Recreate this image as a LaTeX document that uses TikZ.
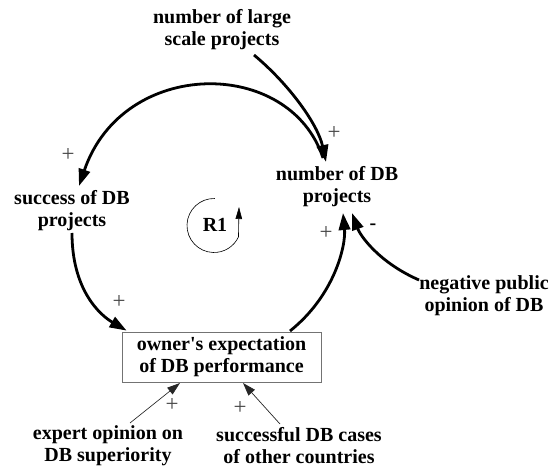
\documentclass[tikz,border=0pt]{standalone}
\usepackage{fontspec}
\setmainfont{Liberation Serif}[Ligatures=TeXOff]
\usetikzlibrary{arrows.meta,calc}
\begin{document}
\begin{tikzpicture}[x=1pt,y=-1pt,
  lbl/.style={font=\bfseries\fontsize{20}{22}\selectfont, align=center, inner sep=0pt},
  sgn/.style={font=\fontsize{23}{23}\selectfont, text=black!72, inner sep=0pt},
  biglink/.style={line width=2.8pt, -{Triangle[length=17pt,width=11.5pt]}},
  thinlink/.style={line width=0.7pt, draw=black!85, -{Triangle[length=13pt,width=8.5pt]}},
  loopmark/.style={line width=0.6pt, -{Triangle[length=12pt,width=6.5pt]}}]
\useasboundingbox (0,0) rectangle (552,473);

% variables
\node[lbl] (large) at (222,30) {number of large\\scale projects};
\node[lbl] (ndb) at (337,187) {number of DB\\projects};
\node[lbl] (succ) at (72,211) {success of DB\\projects};
\node[lbl] (neg) at (484,296) {negative public\\opinion of DB};
\node[lbl, draw=black!55, line width=0.8pt, fill=white, minimum width=199pt, minimum height=50pt] (own) at (221.5,357) {owner's expectation\\of DB performance};
\node[lbl] (exp) at (108,446) {expert opinion on\\DB superiority};
\node[lbl] (sdc) at (299,446) {successful DB cases\\of other countries};
\node[lbl] (r1) at (215,225) {R1};

% connector ends
\coordinate (largeout) at (254,55);
\coordinate (ndbtop) at (326,162);
\coordinate (ndbarc) at (323,158);
\coordinate (succtop) at (79,186);
\coordinate (succbot) at (72,233);
\coordinate (ownnw) at ($(own.north west)+(5,-1)$);
\coordinate (ownne) at (290,331);
\coordinate (ndbbl) at (343,213);
\coordinate (ndbbr) at (352,213);
\coordinate (negin) at (419,280);
\coordinate (expout) at (130,423);
\coordinate (exptip) at (180,383);
\coordinate (sdcout) at (280,424);
\coordinate (sdctip) at (243,383);
\coordinate (loopc) at ($(r1)+(-1,0.5)$);

% connectors
\draw[biglink] (largeout) .. controls (290,85) and (318,125) .. (ndbtop);
\draw[biglink] (ndbarc) .. controls (290,57) and (123,57) .. (succtop);
\draw[biglink] (succbot) .. controls (72,290) and (100,315) .. (ownnw);
\draw[biglink] (ownne) .. controls (335,295) and (346,245) .. (ndbbl);
\draw[biglink] (negin) .. controls (378,262) and (360,235) .. (ndbbr);
\draw[thinlink] (expout) -- (exptip);
\draw[thinlink] (sdcout) -- (sdctip);

% loop marker
\draw[loopmark] ($(loopc)+(272:27)$) arc[start angle=272, end angle=25, radius=27] -- (239,207);

% polarities
\node[sgn] (p1) at (334,133) {+};
\node[sgn] (p2) at (68,155) {+};
\node[sgn] (p3) at (119,302) {+};
\node[sgn] (p4) at (326,233) {+};
\node[sgn] (p5) at (172,405) {+};
\node[sgn] (p6) at (240,408) {+};
\node[lbl] (m1) at (373,227) {-};
\end{tikzpicture}
\end{document}
